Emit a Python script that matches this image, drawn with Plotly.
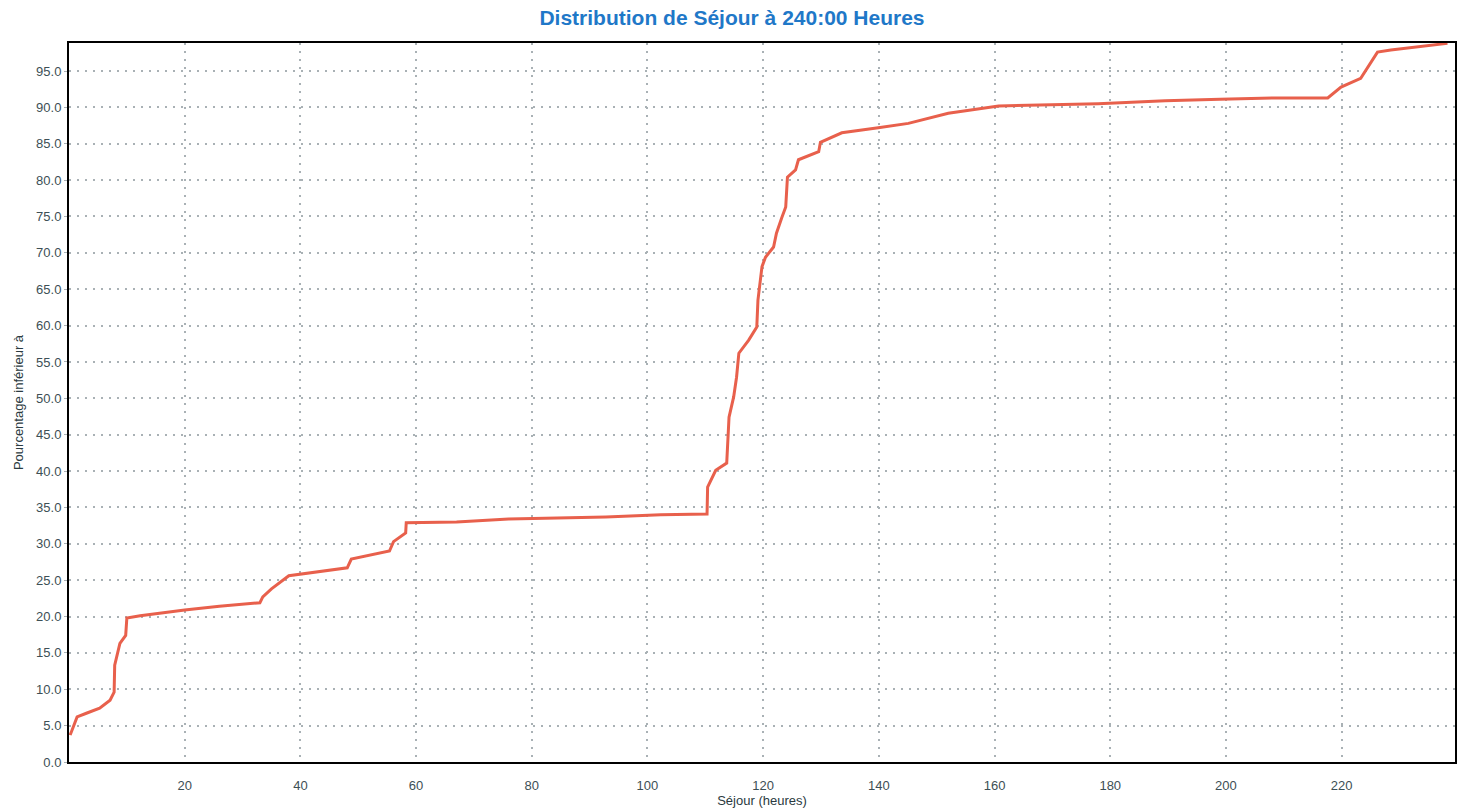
import plotly.graph_objects as go

# Séjour (heures)
sejour = [0.2, 0.6, 1.4, 3.0, 5.3, 7.1, 7.8, 7.9, 8.8, 9.8, 10.0, 12.3, 16.0, 20.0, 26.0,
          33.0, 33.5, 35.0, 38.0, 40.0, 44.0, 48.1, 48.8, 52.0, 55.4, 56.1, 58.2, 58.3,
          67.0, 76.0, 84.0, 92.8, 102.3, 110.3, 110.4, 111.8, 113.7, 114.1, 114.9, 115.4,
          115.8, 117.5, 118.9, 119.1, 119.8, 120.4, 121.8, 122.3, 123.2, 123.9, 124.2,
          125.6, 126.1, 129.6, 129.9, 133.6, 139.9, 145.1, 152.0, 160.7, 177.9, 189.5,
          199.0, 208.5, 217.6, 219.9, 223.3, 226.2, 228.5, 233.1, 238.3]
# Pourcentage inférieur à
pourcentage = [3.7, 4.6, 6.2, 6.7, 7.4, 8.5, 9.6, 13.3, 16.3, 17.4, 19.8, 20.1, 20.5, 20.9, 21.4,
               21.9, 22.7, 23.8, 25.6, 25.8, 26.2, 26.7, 27.9, 28.4, 29.0, 30.3, 31.5, 32.9,
               33.0, 33.4, 33.5, 33.7, 34.0, 34.1, 37.8, 40.1, 41.1, 47.4, 50.2, 52.9,
               56.2, 58.0, 59.8, 63.5, 68.1, 69.4, 70.8, 72.7, 74.8, 76.3, 80.4,
               81.4, 82.8, 83.9, 85.2, 86.5, 87.2, 87.8, 89.2, 90.2, 90.5, 90.9,
               91.1, 91.3, 91.3, 92.8, 94.0, 97.6, 97.9, 98.3, 98.8]

x_ticks = [20, 40, 60, 80, 100, 120, 140, 160, 180, 200, 220]
y_ticks = [0, 5, 10, 15, 20, 25, 30, 35, 40, 45, 50, 55, 60, 65, 70, 75, 80, 85, 90, 95]

fig = go.Figure()
fig.add_trace(go.Scatter(x=sejour, y=pourcentage, mode="lines",
                         line=dict(color="#e8604c", width=3), showlegend=False))

tick_font = dict(family="Liberation Sans, Arial", size=13, color="#3d4f55")
title_font = dict(family="Liberation Sans, Arial", size=13, color="#2a3a40")
grid = dict(showgrid=True, gridcolor="#a9b1b5", griddash="2px,6px", gridwidth=1.5)
fig.update_layout(
    width=1464, height=811,
    margin=dict(l=69, r=7, t=43, b=49),
    paper_bgcolor="white", plot_bgcolor="white",
    title=dict(text="<b>Distribution de Séjour à 240:00 Heures</b>",
               x=0.5, xanchor="center", y=0.978, yanchor="middle",
               font=dict(family="Liberation Sans, Arial", size=21, color="#1f78c8")),
    xaxis=dict(range=[0, 239.6], tickvals=x_ticks, ticktext=[str(v) for v in x_ticks],
               **grid,
               showline=True, linecolor="black", linewidth=2, mirror=True,
               ticks="", ticklabelstandoff=10, tickfont=tick_font, zeroline=False,
               title=dict(text="Séjour (heures)", standoff=2, font=title_font)),
    yaxis=dict(range=[0, 98.85], tickvals=y_ticks, ticktext=[f"{v:.1f}" for v in y_ticks],
               **grid,
               showline=True, linecolor="black", linewidth=2, mirror=True,
               ticks="outside", ticklen=3, tickcolor="#a9b1b5", tickfont=tick_font, zeroline=False,
               title=dict(text="Pourcentage inférieur à", standoff=10, font=title_font)),
)

fig.write_html("out.html")
